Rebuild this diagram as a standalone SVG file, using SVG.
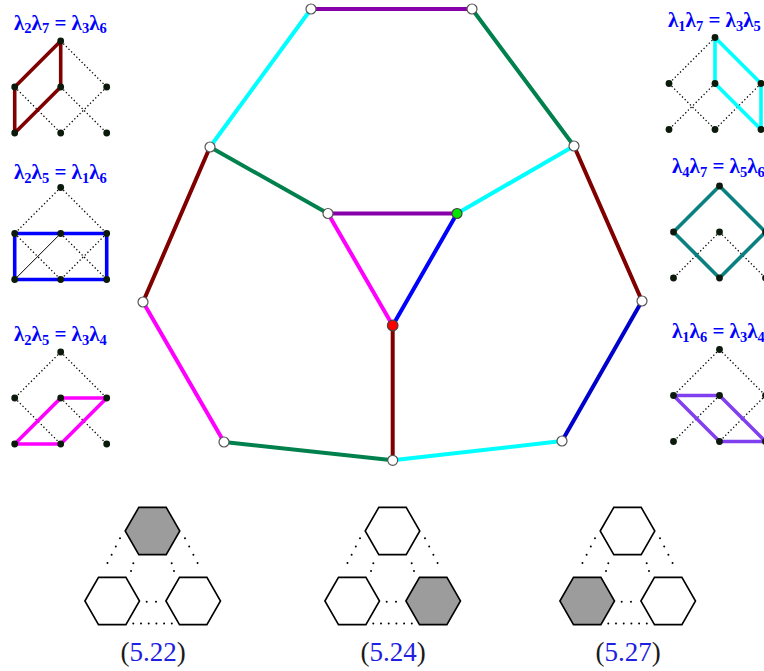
<svg xmlns="http://www.w3.org/2000/svg" xmlns:xlink="http://www.w3.org/1999/xlink" width="764" height="671" viewBox="0 0 764 671">
<style>
.e{fill:none;stroke-width:4;stroke-linecap:round}
.v{fill:#fff;stroke:#555;stroke-width:1.2}
.dot{fill:#0b1a0b}
.dl{stroke:#000;stroke-width:1.3;stroke-dasharray:1.3 2.4;fill:none}
.hl{fill:none;stroke-width:3.6;stroke-linecap:round;stroke-linejoin:round}
.ttl{font-family:"Liberation Serif","DejaVu Serif",serif;font-weight:bold;font-size:21px;fill:#0000ff}
.sub{font-size:14.5px}
.hex{fill:#fff;stroke:#000;stroke-width:1.6}
.hexg{fill:#9c9c9c;stroke:#000;stroke-width:1.6}
.hd{stroke:#000;stroke-width:2;stroke-linecap:round;fill:none}
.lbl{font-family:"Liberation Serif","DejaVu Serif",serif;font-size:27px;text-anchor:middle;fill:#1a1a1a}
.num{fill:#2020e0}
</style>
<defs>
<polygon id="hexshape" points="-27.3,0 -13.7,-23.6 13.7,-23.6 27.3,0 13.7,23.6 -13.7,23.6"/>
<g id="pts">
<circle class="dot" cx="46" cy="0" r="3.4"/>
<circle class="dot" cx="0" cy="46" r="3.4"/>
<circle class="dot" cx="46" cy="46" r="3.4"/>
<circle class="dot" cx="92" cy="46" r="3.4"/>
<circle class="dot" cx="0" cy="92" r="3.4"/>
<circle class="dot" cx="46" cy="92" r="3.4"/>
<circle class="dot" cx="92" cy="92" r="3.4"/>
</g>
</defs>

<g id="connectors">
<line class="e" x1="311" y1="9" x2="472" y2="9" stroke="#8800aa"/>
<line class="e" x1="311" y1="9" x2="210" y2="147" stroke="#00ffff"/>
<line class="e" x1="472" y1="9" x2="574" y2="146" stroke="#00804d"/>
<line class="e" x1="210" y1="147" x2="143" y2="302" stroke="#800000"/>
<line class="e" x1="210" y1="147" x2="328" y2="213.5" stroke="#00804d"/>
<line class="e" x1="574" y1="146" x2="457" y2="213.5" stroke="#00ffff"/>
<line class="e" x1="574" y1="146" x2="642" y2="301" stroke="#800000"/>
<line class="e" x1="328" y1="213.5" x2="457" y2="213.5" stroke="#8800aa"/>
<line class="e" x1="328" y1="213.5" x2="392.7" y2="325.5" stroke="#ff00ff"/>
<line class="e" x1="457" y1="213.5" x2="392.7" y2="325.5" stroke="#0000ff"/>
<line class="e" x1="392.7" y1="325.5" x2="392.7" y2="460.3" stroke="#800000"/>
<line class="e" x1="143" y1="302" x2="224" y2="442" stroke="#ff00ff"/>
<line class="e" x1="642" y1="301" x2="562" y2="441" stroke="#0000cc"/>
<line class="e" x1="224" y1="442" x2="392.7" y2="460.3" stroke="#00804d"/>
<line class="e" x1="392.7" y1="460.3" x2="562" y2="441" stroke="#00ffff"/>
</g>

<g id="n-top-left"><circle class="v" cx="311" cy="9" r="5"/></g>
<g id="n-top-right"><circle class="v" cx="472" cy="9" r="5"/></g>
<g id="n-upper-left"><circle class="v" cx="210" cy="147" r="5"/></g>
<g id="n-upper-right"><circle class="v" cx="574" cy="146" r="5"/></g>
<g id="n-inner-left"><circle class="v" cx="328" cy="213.5" r="5"/></g>
<g id="n-inner-right"><circle cx="457" cy="213.5" r="5" fill="#00e600" stroke="#444" stroke-width="1.2"/></g>
<g id="n-center"><circle cx="392.7" cy="325.5" r="5.3" fill="#ff0000" stroke="#444" stroke-width="1.2"/></g>
<g id="n-left"><circle class="v" cx="143" cy="302" r="5"/></g>
<g id="n-right"><circle class="v" cx="642" cy="301" r="5"/></g>
<g id="n-bottom-left"><circle class="v" cx="224" cy="442" r="5"/></g>
<g id="n-bottom-right"><circle class="v" cx="562" cy="441" r="5"/></g>
<g id="n-bottom"><circle class="v" cx="392.7" cy="460.3" r="5"/></g>

<!-- Insets -->
<g id="inset1">
<text class="ttl" x="14" y="29.5">λ<tspan class="sub" dy="3.5">2</tspan><tspan dy="-3.5">λ</tspan><tspan class="sub" dy="3.5">7</tspan><tspan dy="-3.5"> = λ</tspan><tspan class="sub" dy="3.5">3</tspan><tspan dy="-3.5">λ</tspan><tspan class="sub" dy="3.5">6</tspan></text>
<g transform="translate(14.7,41)">
<path class="dl" d="M46,0L92,46M0,46L46,92M92,46L46,92M46,46L92,92"/>
<path class="hl" stroke="#800000" d="M46,46L46,0L0,46L0,92L46,46"/>
<use xlink:href="#pts"/>
</g>
</g>

<g id="inset2">
<text class="ttl" x="14" y="179">λ<tspan class="sub" dy="3.5">2</tspan><tspan dy="-3.5">λ</tspan><tspan class="sub" dy="3.5">5</tspan><tspan dy="-3.5"> = λ</tspan><tspan class="sub" dy="3.5">1</tspan><tspan dy="-3.5">λ</tspan><tspan class="sub" dy="3.5">6</tspan></text>
<g transform="translate(14.7,187.5)">
<path class="dl" d="M46,0L0,46M46,0L92,46M0,46L46,92M92,46L46,92M46,46L92,92"/>
<line x1="46" y1="46" x2="0" y2="92" stroke="#000" stroke-width="1"/>
<path class="hl" stroke="#0000ff" stroke-width="4" d="M0,46H92V92H0Z"/>
<use xlink:href="#pts"/>
</g>
</g>

<g id="inset3">
<text class="ttl" x="14" y="341">λ<tspan class="sub" dy="3.5">2</tspan><tspan dy="-3.5">λ</tspan><tspan class="sub" dy="3.5">5</tspan><tspan dy="-3.5"> = λ</tspan><tspan class="sub" dy="3.5">3</tspan><tspan dy="-3.5">λ</tspan><tspan class="sub" dy="3.5">4</tspan></text>
<g transform="translate(14.7,352)">
<path class="dl" d="M46,0L0,46M46,0L92,46M0,46L46,92M46,46L92,92"/>
<path class="hl" stroke="#ff00ff" d="M0,92H46L92,46H46Z"/>
<use xlink:href="#pts"/>
</g>
</g>

<g id="inset4">
<text class="ttl" x="668" y="27">λ<tspan class="sub" dy="3.5">1</tspan><tspan dy="-3.5">λ</tspan><tspan class="sub" dy="3.5">7</tspan><tspan dy="-3.5"> = λ</tspan><tspan class="sub" dy="3.5">3</tspan><tspan dy="-3.5">λ</tspan><tspan class="sub" dy="3.5">5</tspan></text>
<g transform="translate(669,37.5)">
<path class="dl" d="M46,0L0,46M0,46L46,92M46,46L0,92M92,46L46,92"/>
<path class="hl" stroke="#00ffff" d="M46,46V0L92,46V92Z"/>
<use xlink:href="#pts"/>
</g>
</g>

<g id="inset5">
<text class="ttl" x="672" y="173">λ<tspan class="sub" dy="3.5">4</tspan><tspan dy="-3.5">λ</tspan><tspan class="sub" dy="3.5">7</tspan><tspan dy="-3.5"> = λ</tspan><tspan class="sub" dy="3.5">5</tspan><tspan dy="-3.5">λ</tspan><tspan class="sub" dy="3.5">6</tspan></text>
<g transform="translate(673.5,186)">
<path class="dl" d="M46,46L0,92M46,46L92,92"/>
<path class="hl" stroke="#0a8080" d="M46,0L92,46L46,92L0,46Z"/>
<use xlink:href="#pts"/>
</g>
</g>

<g id="inset6">
<text class="ttl" x="672" y="338">λ<tspan class="sub" dy="3.5">1</tspan><tspan dy="-3.5">λ</tspan><tspan class="sub" dy="3.5">6</tspan><tspan dy="-3.5"> = λ</tspan><tspan class="sub" dy="3.5">3</tspan><tspan dy="-3.5">λ</tspan><tspan class="sub" dy="3.5">4</tspan></text>
<g transform="translate(673.5,349.5)">
<path class="dl" d="M46,0L0,46M46,0L92,46M46,46L0,92M92,46L46,92"/>
<path class="hl" stroke="#8040f0" d="M0,46H46L92,92H46Z"/>
<use xlink:href="#pts"/>
</g>
</g>

<!-- Hexagon groups -->
<g id="hexgroup1">
<path class="hd" stroke-dasharray="0 9.2" d="M120,538.3L103.3,571M185,538.3L201.7,571"/>
<path class="hd" stroke-dasharray="0 8" d="M133.3,563.3L131,571M171.7,563.3L174,571"/>
<path class="hd" stroke-dasharray="0 9.3" d="M146.7,601.7H156.5"/>
<path class="hd" stroke-dasharray="0 7.7" d="M133.3,623.5H172"/>
<use xlink:href="#hexshape" class="hexg" x="152.5" y="531"/>
<use xlink:href="#hexshape" class="hex" x="112.2" y="601"/>
<use xlink:href="#hexshape" class="hex" x="193.2" y="601"/>
<text class="lbl" x="153" y="661">(<tspan class="num">5.22</tspan>)</text>
</g>

<g id="hexgroup2" transform="translate(240,0)">
<path class="hd" stroke-dasharray="0 9.2" d="M120,538.3L103.3,571M185,538.3L201.7,571"/>
<path class="hd" stroke-dasharray="0 8" d="M133.3,563.3L131,571M171.7,563.3L174,571"/>
<path class="hd" stroke-dasharray="0 9.3" d="M146.7,601.7H156.5"/>
<path class="hd" stroke-dasharray="0 7.7" d="M133.3,623.5H172"/>
<use xlink:href="#hexshape" class="hex" x="152.5" y="531"/>
<use xlink:href="#hexshape" class="hex" x="112.2" y="601"/>
<use xlink:href="#hexshape" class="hexg" x="193.2" y="601"/>
<text class="lbl" x="153" y="661">(<tspan class="num">5.24</tspan>)</text>
</g>

<g id="hexgroup3" transform="translate(475,0)">
<path class="hd" stroke-dasharray="0 9.2" d="M120,538.3L103.3,571M185,538.3L201.7,571"/>
<path class="hd" stroke-dasharray="0 8" d="M133.3,563.3L131,571M171.7,563.3L174,571"/>
<path class="hd" stroke-dasharray="0 9.3" d="M146.7,601.7H156.5"/>
<path class="hd" stroke-dasharray="0 7.7" d="M133.3,623.5H172"/>
<use xlink:href="#hexshape" class="hex" x="152.5" y="531"/>
<use xlink:href="#hexshape" class="hexg" x="112.2" y="601"/>
<use xlink:href="#hexshape" class="hex" x="193.2" y="601"/>
<text class="lbl" x="153" y="661">(<tspan class="num">5.27</tspan>)</text>
</g>
</svg>
